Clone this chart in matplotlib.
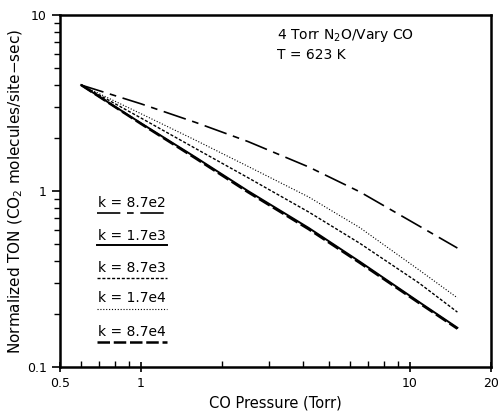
import matplotlib
matplotlib.use('Agg')

import numpy as np
import matplotlib.pyplot as plt
from matplotlib.ticker import NullFormatter, FixedLocator

pco = [0.6, 1.0, 1.6, 2.5, 4.2, 6.5, 10.8, 15.0]

# normalized TON for each rate constant k
ton_87e2 = [4.0, 3.13, 2.45, 1.91, 1.37, 0.99, 0.633, 0.474]
ton_17e3 = [4.0, 2.43, 1.55, 1.00, 0.617, 0.397, 0.234, 0.167]
ton_87e3 = [4.0, 2.60, 1.74, 1.19, 0.76, 0.505, 0.300, 0.205]
ton_17e4 = [4.0, 2.75, 1.94, 1.38, 0.925, 0.62, 0.356, 0.247]
ton_87e4 = [4.0, 2.41, 1.53, 0.985, 0.607, 0.391, 0.231, 0.165]

labels = ['k = 8.7e2', 'k = 1.7e3', 'k = 8.7e3', 'k = 1.7e4', 'k = 8.7e4']

styles = [
    dict(color='black', lw=1.2, dashes=(14, 4, 4, 4)),
    dict(color='black', lw=1.4, linestyle='-'),
    dict(color='black', lw=1.0, dashes=(2.2, 1.3)),
    dict(color='black', lw=0.8, dashes=(1, 1.6)),
    dict(color='black', lw=1.8, dashes=(5, 1.5)),
]

fig = plt.figure(figsize=(4.99, 4.17), dpi=100)
ax = fig.add_axes([0.120, 0.120, 0.864, 0.844])

series = [ton_87e2, ton_17e3, ton_87e3, ton_17e4, ton_87e4]
for s, st in zip(series, styles):
    ax.plot(pco, s, **st)

ax.set_xscale('log')
ax.set_yscale('log')
ax.set_xlim(0.5, 20)
ax.set_ylim(0.1, 10)

ax.xaxis.set_major_locator(FixedLocator([0.5, 1, 10, 20]))
ax.set_xticklabels(['0.5', '1', '10', '20'])
ax.xaxis.set_minor_locator(FixedLocator([0.6, 0.7, 0.8, 0.9, 2, 3, 4, 5, 6, 7, 8, 9]))
ax.xaxis.set_minor_formatter(NullFormatter())
ax.yaxis.set_major_locator(FixedLocator([0.1, 1, 10]))
ax.set_yticklabels(['0.1', '1', '10'])
ax.yaxis.set_minor_formatter(NullFormatter())

for sp in ax.spines.values():
    sp.set_linewidth(1.8)
ax.tick_params(axis='x', which='major', direction='inout', length=7, width=1.2, labelsize=9)
ax.tick_params(axis='x', which='minor', direction='in', length=4, width=1.0)
ax.tick_params(axis='y', which='major', direction='out', length=6, width=1.2, labelsize=9)
ax.tick_params(axis='y', which='minor', direction='out', length=4, width=1.0)

ax.set_xlabel('CO Pressure (Torr)', fontsize=10.5)
ax.set_ylabel('Normalized TON (CO$_2$ molecules/site\u2212sec)', fontsize=11, labelpad=1)

ax.text(0.503, 0.943, '4 Torr N$_2$O/Vary CO', transform=ax.transAxes,
        fontsize=10, va='center', ha='left')
ax.text(0.503, 0.886, 'T = 623 K', transform=ax.transAxes,
        fontsize=10, va='center', ha='left')

# underlined key labels
text_y = [0.466, 0.372, 0.281, 0.196, 0.099]
line_y = [0.438, 0.347, 0.253, 0.165, 0.071]
for lab, ty, ly, st in zip(labels, text_y, line_y, styles):
    ax.text(0.088, ty, lab, transform=ax.transAxes, fontsize=10,
            va='center', ha='left')
    ax.plot([0.086, 0.248], [ly, ly], transform=ax.transAxes, **st)

plt.savefig('out.png', dpi=100)
